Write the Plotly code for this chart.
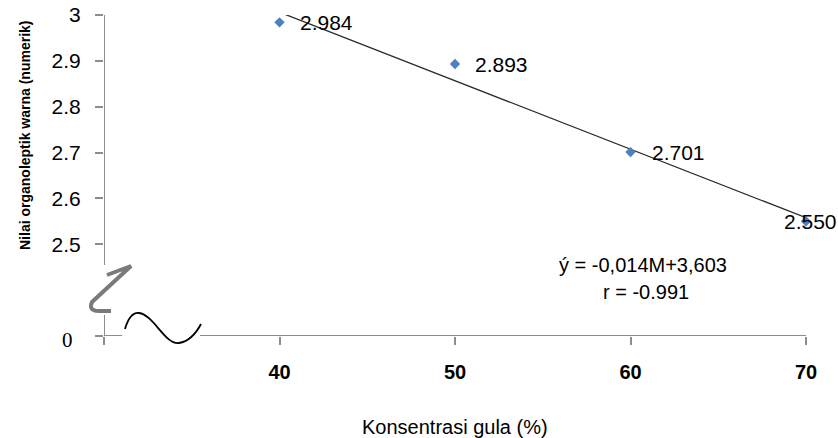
import numpy as np
import plotly.graph_objects as go

# ---- data ----
konsentrasi = [40, 50, 60, 70]
nilai_warna = [2.984, 2.893, 2.701, 2.550]
label_teks = ["2.984", "2.893", "2.701", "2.550"]
x_tickvals = [30, 40, 50, 60, 70]
x_ticktext = ["", "40", "50", "60", "70"]
y_tickvals = [2.3, 2.5, 2.6, 2.7, 2.8, 2.9, 3.0]
y_ticktext = ["", "2.5", "2.6", "2.7", "2.8", "2.9", "3"]
persamaan = "ý = -0,014M+3,603"
korelasi = "r = -0.991"

# ---- layout constants (pixels) ----
W, H = 838, 438
L, R, T, B = 104, 32, 15, 102
PW, PH = W - L - R, H - T - B
FONT = "Liberation Sans, Arial, sans-serif"
AXC = "#8c8c8c"
XR = [30, 70]
YR = [2.3, 3.0]


def px(x):
    return (x - L) / PW


def py(y):
    return (H - B - y) / PH


# linear trend line from the data
slope, intercept = np.polyfit(konsentrasi, nilai_warna, 1)
tx = np.array([konsentrasi[0], konsentrasi[-1]], dtype=float)
ty = slope * tx + intercept

fig = go.Figure()
fig.add_trace(go.Scatter(x=tx, y=ty, mode="lines",
                         line=dict(color="#2b2b2b", width=1.3),
                         hoverinfo="skip", showlegend=False, cliponaxis=False))
fig.add_trace(go.Scatter(x=konsentrasi, y=nilai_warna, mode="markers",
                         marker=dict(symbol="diamond", size=8, color="#4F81BD"),
                         showlegend=False, cliponaxis=False))

label_shift = [18, 18, 19, -24]
for xv, yv, t, s in zip(konsentrasi, nilai_warna, label_teks, label_shift):
    fig.add_annotation(x=xv, y=yv, text=t, showarrow=False, xanchor="left",
                       yanchor="middle", xshift=s,
                       font=dict(family=FONT, size=21, color="black"))

# equation text
fig.add_annotation(x=px(643), y=py(265), xref="paper", yref="paper",
                   text=persamaan, showarrow=False, xanchor="center", yanchor="middle",
                   font=dict(family=FONT, size=20, color="black"))
fig.add_annotation(x=px(646), y=py(292), xref="paper", yref="paper",
                   text=korelasi, showarrow=False, xanchor="center", yanchor="middle",
                   font=dict(family=FONT, size=20, color="black"))

# axis titles
fig.add_annotation(x=px(455), y=py(427), xref="paper", yref="paper",
                   text="Konsentrasi gula (%)", showarrow=False,
                   xanchor="center", yanchor="middle",
                   font=dict(family=FONT, size=20, color="black"))
fig.add_annotation(x=px(25), y=py(135), xref="paper", yref="paper",
                   text="Nilai organoleptik warna (numerik)", showarrow=False,
                   textangle=-90, xanchor="center", yanchor="middle",
                   font=dict(family=FONT, size=14, color="black", weight="bold"))
# "0" label of the broken axis
fig.add_annotation(x=px(67), y=py(340), xref="paper", yref="paper",
                   text="0", showarrow=False, xanchor="center", yanchor="middle",
                   font=dict(family="Liberation Serif, Times New Roman, serif",
                             size=21, color="black"))

# axis lines with breaks
line_style = dict(color=AXC, width=2)
fig.add_shape(type="line", xref="x", yref="y", x0=30, x1=30, y0=2.455, y1=3.0, line=line_style)
fig.add_shape(type="line", xref="x", yref="y", x0=30, x1=30, y0=2.3, y1=2.346, line=line_style)
fig.add_shape(type="line", xref="x", yref="y", x0=30, x1=31.03, y0=2.3, y1=2.3, line=line_style)
fig.add_shape(type="line", xref="x", yref="y", x0=35.47, x1=70, y0=2.3, y1=2.3, line=line_style)


def path(pts_cmds):
    out = []
    for cmd, *coords in pts_cmds:
        c = []
        for i in range(0, len(coords), 2):
            c.append(f"{px(coords[i]):.5f},{py(coords[i+1]):.5f}")
        out.append(cmd + " " + " ".join(c))
    return " ".join(out)


z_path = path([("M", 107, 275), ("L", 131, 266), ("L", 92, 302),
               ("Q", 88, 311, 99, 311), ("L", 111, 311)])
fig.add_shape(type="path", xref="paper", yref="paper", path=z_path,
              line=dict(color="#7a7a7a", width=4))
tilde_path = path([("M", 125, 329), ("Q", 130, 312, 139, 313),
                   ("C", 154, 315, 165, 345, 179, 343),
                   ("Q", 192, 341, 201, 324)])
fig.add_shape(type="path", xref="paper", yref="paper", path=tilde_path,
              line=dict(color="black", width=1.8))

fig.update_layout(
    width=W, height=H,
    margin=dict(l=L, r=R, t=T, b=B, pad=0, autoexpand=False),
    plot_bgcolor="white", paper_bgcolor="white",
    showlegend=False,
    xaxis=dict(range=XR, tickvals=x_tickvals, ticktext=x_ticktext,
               showgrid=False, zeroline=False, showline=False, automargin=False,
               ticks="outside", ticklen=8, tickwidth=2, tickcolor=AXC,
               ticklabelstandoff=10,
               tickfont=dict(family=FONT, size=20, color="black", weight="bold")),
    yaxis=dict(range=YR, tickvals=y_tickvals, ticktext=y_ticktext,
               showgrid=False, zeroline=False, showline=False, automargin=False,
               ticks="outside", ticklen=8, tickwidth=2, tickcolor=AXC,
               ticklabelstandoff=10,
               tickfont=dict(family=FONT, size=21, color="black")),
)

fig.write_html("out.html")
